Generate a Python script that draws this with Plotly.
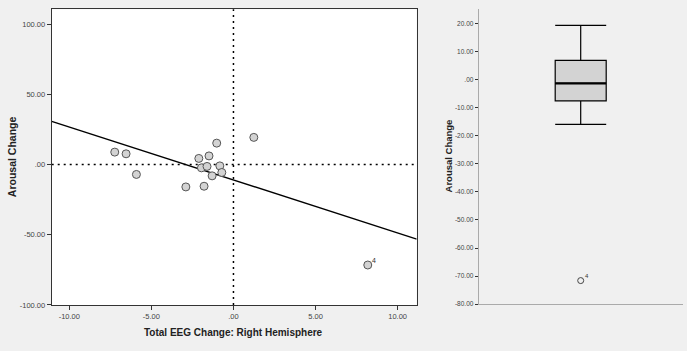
import numpy as np
import plotly.graph_objects as go

# ---- data ----
eeg_right = [-7.23, -6.54, -5.91, -2.90, -2.11, -1.79, -1.95, -1.61, -1.49, -1.02, -1.30, -0.83, -0.71, 1.24, 8.18]
arousal = [8.8, 7.6, -7.1, -16.0, 4.3, -15.5, -2.4, -1.4, 6.1, 15.2, -8.1, -1.0, -5.7, 19.3, -71.6]
outlier_label = "4"

x_ticks = [-10, -5, 0, 5, 10]
x_ticktext = ["-10.00", "-5.00", ".00", "5.00", "10.00"]
y_ticks = [-100, -50, 0, 50, 100]
y_ticktext = ["-100.00", "-50.00", ".00", "50.00", "100.00"]
box_ticks = [20, 10, 0, -10, -20, -30, -40, -50, -60, -70, -80]
box_ticktext = ["20.00", "10.00", ".00", "-10.00", "-20.00", "-30.00", "-40.00",
                "-50.00", "-60.00", "-70.00", "-80.00"]

X_RANGE = [-11.07, 11.16]
Y_RANGE = [-100, 110.5]
BOX_RANGE = [-80, 25]
BOX_WIDTH = 1.0

W, H = 687, 351
HE = 345.0  # effective vertical scale observed in rendering
BG = "#f0f0f0"
FONT = "Liberation Sans, Arial, sans-serif"

# regression line
slope, intercept = np.polyfit(eeg_right, arousal, 1)
fit_x = np.array(X_RANGE)
fit_y = slope * fit_x + intercept
med = float(np.median(arousal))

fig = go.Figure()

fig.add_trace(go.Scatter(
    x=fit_x, y=fit_y, mode="lines",
    line=dict(color="black", width=1.4),
    xaxis="x", yaxis="y", showlegend=False, hoverinfo="skip"))

fig.add_trace(go.Scatter(
    x=eeg_right, y=arousal, mode="markers",
    marker=dict(size=8, color="#d3d3d3", line=dict(color="#555555", width=1)),
    xaxis="x", yaxis="y", showlegend=False))

fig.add_trace(go.Box(
    y=arousal, x0=0, width=BOX_WIDTH, quartilemethod="inclusive",
    boxpoints="outliers", pointpos=0, jitter=0,
    fillcolor="#d3d3d3", line=dict(color="black", width=1.2),
    whiskerwidth=1,
    marker=dict(symbol="circle-open", color="#444444", size=6, line=dict(width=1)),
    xaxis="x2", yaxis="y2", showlegend=False))

# heavier median line, as in the reference
fig.add_trace(go.Scatter(
    x=[-BOX_WIDTH / 2, BOX_WIDTH / 2], y=[med, med], mode="lines",
    line=dict(color="black", width=2.2),
    xaxis="x2", yaxis="y2", showlegend=False, hoverinfo="skip"))

# domains (pixel-derived)
lx0, lx1 = 51.7 / W, 416.7 / W
rx0, rx1 = 478.7 / W, 682.7 / W
ly0, ly1 = 1 - 304 / HE, 1 - 9.3 / HE
ry0, ry1 = 1 - 303.3 / HE, 1 - 9.3 / HE

tickfont = dict(family=FONT, size=7.5, color="#444444")

fig.update_layout(
    width=W, height=H, margin=dict(l=0, r=0, t=0, b=0),
    paper_bgcolor=BG, plot_bgcolor=BG,
    xaxis=dict(domain=[lx0, lx1], range=X_RANGE, tickvals=x_ticks, ticktext=x_ticktext,
               ticks="outside", ticklen=4, tickcolor="#333", showline=True, mirror=True,
               linecolor="#333", linewidth=1, showgrid=False, zeroline=False,
               tickfont=tickfont, anchor="y"),
    yaxis=dict(domain=[ly0, ly1], range=Y_RANGE, tickvals=y_ticks, ticktext=y_ticktext,
               ticks="outside", ticklen=4, tickcolor="#333", showline=True, mirror=True,
               linecolor="#333", linewidth=1, showgrid=False, zeroline=False,
               tickfont=tickfont, anchor="x"),
    xaxis2=dict(domain=[rx0, rx1], range=[-2, 2], showticklabels=False, ticks="",
                showline=True, linecolor="#aaaaaa", linewidth=1, showgrid=False,
                zeroline=False, anchor="y2"),
    yaxis2=dict(domain=[ry0, ry1], range=BOX_RANGE, tickvals=box_ticks, ticktext=box_ticktext,
                ticks="outside", ticklen=3, tickcolor="#333", showline=True,
                linecolor="#aaaaaa", linewidth=1, showgrid=False, zeroline=False,
                tickfont=dict(family=FONT, size=6.5, color="#444444"), anchor="x2"),
    shapes=[
        dict(type="rect", xref="x domain", yref="y domain", x0=0, x1=1, y0=0, y1=1,
             fillcolor="white", line=dict(width=0), layer="below"),
        dict(type="line", xref="x", yref="y domain", x0=0, x1=0, y0=0, y1=1,
             line=dict(color="black", width=1.5, dash="2px,4px"), layer="below"),
        dict(type="line", xref="x domain", yref="y", x0=0, x1=1, y0=0, y1=0,
             line=dict(color="black", width=1.5, dash="2px,4px"), layer="below"),
    ],
    annotations=[
        dict(x=eeg_right[-1], y=arousal[-1], xref="x", yref="y", text=outlier_label,
             showarrow=False, xshift=6, yshift=5, font=dict(family=FONT, size=7, color="#333")),
        dict(x=0, y=min(arousal), xref="x2", yref="y2", text=outlier_label,
             showarrow=False, xshift=6, yshift=5, font=dict(family=FONT, size=6, color="#333")),
        dict(x=12 / W, y=1 - 156.7 / HE, xref="paper", yref="paper", text="<b>Arousal Change</b>",
             xanchor="center", yanchor="middle",
             textangle=-90, showarrow=False, font=dict(family=FONT, size=10.5, color="#222")),
        dict(x=233.3 / W, y=1 - 331.7 / HE, xref="paper", yref="paper",
             text="<b>Total EEG Change: Right Hemisphere</b>",
             xanchor="center", yanchor="middle",
             showarrow=False, font=dict(family=FONT, size=10, color="#222")),
        dict(x=448 / W, y=1 - 156 / HE, xref="paper", yref="paper", text="<b>Arousal Change</b>",
             xanchor="center", yanchor="middle",
             textangle=-90, showarrow=False, font=dict(family=FONT, size=9.5, color="#222")),
    ],
)

fig.write_html("out.html")
